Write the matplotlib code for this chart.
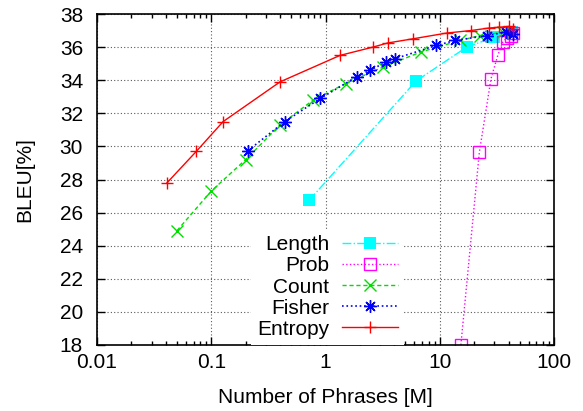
#!/usr/bin/env python
"""
BLEU vs. number of phrases for several pruning criteria (gnuplot-like look)
"""

import numpy as np
import matplotlib as mpl
mpl.use('Agg')
import matplotlib.pyplot as plt
from matplotlib.ticker import LogLocator, NullFormatter, FixedLocator

plt.rcParams['font.family'] = ['Liberation Sans', 'DejaVu Sans']

### data (x in millions of phrases, y BLEU %)
length_x = [0.72, 6.2, 17.2, 30.0, 43.0]
length_y = [26.75, 33.95, 36.0, 36.6, 36.9]

prob_x = [15.3, 22.2, 28.1, 32.2, 35.6, 38.5, 41.8, 44.0]
prob_y = [18.0, 29.65, 34.1, 35.5, 36.3, 36.55, 36.7, 36.85]

count_x = [0.05, 0.1, 0.2, 0.4, 0.78, 1.5, 3.2, 6.8, 15.0, 22.5, 36.0]
count_y = [24.9, 27.3, 29.2, 31.3, 32.8, 33.8, 34.8, 35.7, 36.4, 36.7, 36.9]

fisher_x = [0.21, 0.44, 0.9, 1.87, 2.45, 3.4, 4.06, 9.3, 13.6, 25.7, 38.0, 44.0]
fisher_y = [29.75, 31.5, 32.9, 34.2, 34.6, 35.1, 35.3, 36.1, 36.4, 36.7, 36.9, 36.8]

entropy_x = [0.041, 0.074, 0.127, 0.40, 1.34, 2.6, 3.5, 5.8, 11.5, 18.6, 26.8, 33.0, 40.0, 44.0]
entropy_y = [27.8, 29.7, 31.5, 33.9, 35.5, 36.0, 36.25, 36.5, 36.85, 37.0, 37.15, 37.2, 37.25, 37.1]

yticks = np.arange(18, 39, 2)
xticks = [0.01, 0.1, 1, 10, 100]
xticklabels = ['0.01', '0.1', '1', '10', '100']

fs = 15

fig = plt.figure(figsize=(5.83, 4.11), dpi=100)
ax = fig.add_axes([0.1664, 0.1606, 0.7839, 0.8053])

ms = 8
ax.plot(length_x, length_y, linestyle='-.', color='#00ffff', lw=1.0,
        marker='s', markersize=ms, markeredgewidth=0, label='Length')
ax.plot(prob_x, prob_y, linestyle=':', color='#ff00ff', lw=1.0,
        marker='s', markersize=ms, markerfacecolor='none', markeredgewidth=1.0, label='Prob')
ax.plot(count_x, count_y, linestyle='--', color='#00dd00', lw=1.0, dashes=(3, 2),
        marker='x', markersize=ms, markeredgewidth=1.0, label='Count')
ax.plot(fisher_x, fisher_y, linestyle=':', color='#0000ff', lw=1.2,
        marker=(8, 2, 0), markersize=ms + 1, markeredgewidth=1.0, label='Fisher')
ax.plot(entropy_x, entropy_y, linestyle='-', color='#ff0000', lw=1.0,
        marker='+', markersize=ms + 1, markeredgewidth=1.0, label='Entropy')

ax.set_xscale('log')
ax.set_xlim(0.01, 100)
ax.set_ylim(18, 38)
ax.xaxis.set_major_locator(FixedLocator(xticks))
ax.set_xticklabels(xticklabels)
ax.xaxis.set_minor_locator(LogLocator(base=10, subs=np.arange(2, 10), numticks=20))
ax.xaxis.set_minor_formatter(NullFormatter())
ax.set_yticks(yticks)

ax.tick_params(which='both', direction='in', top=True, right=True, labelsize=fs, width=1.0)
ax.tick_params(which='major', length=6)
ax.tick_params(which='minor', length=3)
ax.tick_params(axis='y', which='major', pad=10)
ax.tick_params(axis='x', which='major', pad=6)
for s in ax.spines.values():
    s.set_linewidth(1.2)

ax.grid(True, which='major', color='0.35', linestyle=(0, (1, 2)), linewidth=0.8)
ax.set_axisbelow(True)

ax.set_xlabel('Number of Phrases [M]', fontsize=fs, labelpad=11)
ax.set_ylabel('BLEU[%]', fontsize=fs, labelpad=18)

leg = ax.legend(loc='lower right', bbox_to_anchor=(0.672, 0.0), markerfirst=False,
                frameon=True, fancybox=False, fontsize=fs, handlelength=2.7,
                handletextpad=0.6, labelspacing=0.1, borderpad=0.3, borderaxespad=0.0)
leg.get_frame().set_edgecolor('none')
leg.get_frame().set_facecolor('white')
leg.get_frame().set_alpha(1.0)
for t in leg.get_texts():
    t.set_ha('right')

plt.savefig('out.png', dpi=100)
plt.close()
